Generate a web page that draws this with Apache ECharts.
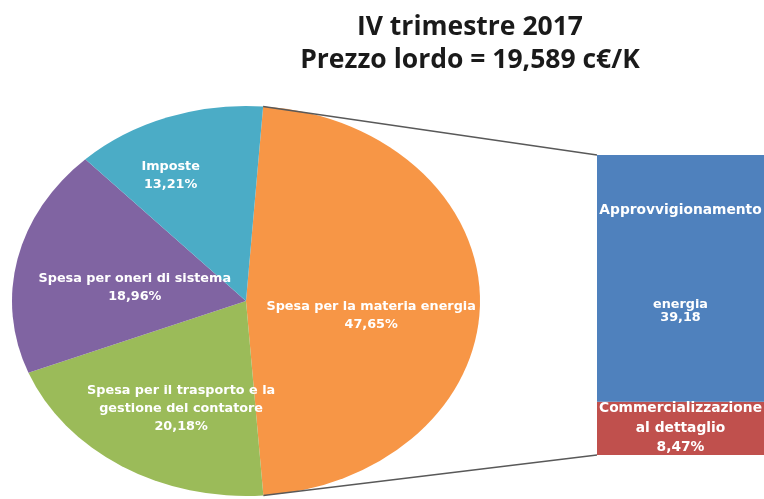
<!DOCTYPE html>
<html lang="it">
<head>
    <meta charset="UTF-8">
    <title></title>
    <style type="text/css">
        html,body{margin:0;padding:0;background:#fff;}
        #main{width:764px;height:499px;}
    </style>
</head>
<body>
<div id="main"></div>
<script src="https://cdn.jsdelivr.net/npm/echarts@6/dist/echarts.min.js"></script>
<script>
    var titleLines = ['IV trimestre 2017', 'Prezzo lordo = 19,589 c€/K'];

    // torta: fette in senso orario, a partire dalla materia energia
    var pieNames = ['Spesa per la materia energia', 'Spesa per il trasporto e la\ngestione del contatore', 'Spesa per oneri di sistema', 'Imposte'];
    var pieValues = [47.65, 20.18, 18.96, 13.21];
    var pieColors = ['#F79646', '#9BBB59', '#8064A2', '#4BACC6'];

    // colonna di dettaglio della materia energia (dal basso verso l'alto)
    var barNames = ['Commercializzazione\nal dettaglio', 'Approvvigionamento energia'];
    var barValues = [8.47, 39.18];
    var barColors = ['#C0504D', '#4F81BD'];

    // impaginazione
    var pieCx = 246, pieCy = 301, pieRx = 234, pieRy = 195, pieStart = 4.2;
    var labelR = [0.54, 0.62, 0.48, 0.72];
    var labelTurn = [8, -5.5, -4.5, -7];
    var gridLeft = 597, gridTop = 155, gridW = 182, gridH = 300;

    var pieTotal = pieValues.reduce(function (s, v) { return s + v; }, 0);
    var barTotal = barValues.reduce(function (s, v) { return s + v; }, 0);

    function fmt(v) {
        return v.toFixed(2).replace('.', ',');
    }

    function sliceAngles(i) {
        var before = 0;
        for (var k = 0; k < i; k++) before += pieValues[k];
        var a0 = pieStart + 360 * before / pieTotal;
        var a1 = a0 + 360 * pieValues[i] / pieTotal;
        return [a0, a1];
    }

    function toRad(deg) {
        return (deg - 90) * Math.PI / 180;
    }

    function edgePoint(deg) {
        var t = deg * Math.PI / 180;
        return [pieCx + pieRx * Math.sin(t), pieCy - pieRy * Math.cos(t)];
    }

    function renderSlice(params, api) {
        var i = params.dataIndex;
        var ang = sliceAngles(i);
        var mid = (ang[0] + ang[1]) / 2 + labelTurn[i];
        var t = mid * Math.PI / 180;
        return {
            type: 'group',
            children: [{
                type: 'sector',
                x: pieCx,
                y: pieCy,
                scaleX: pieRx / pieRy,
                shape: {cx: 0, cy: 0, r0: 0, r: pieRy, startAngle: toRad(ang[0]), endAngle: toRad(ang[1]), clockwise: true},
                style: {fill: pieColors[i]}
            }, {
                type: 'text',
                x: pieCx + pieRx * labelR[i] * Math.sin(t),
                y: pieCy - pieRy * labelR[i] * Math.cos(t),
                z2: 10,
                style: {
                    text: pieNames[i] + '\n' + fmt(api.value(0)) + '%',
                    fill: '#fff',
                    fontFamily: 'DejaVu Sans',
                    fontWeight: 'bold',
                    fontSize: 12.8,
                    lineHeight: 18,
                    align: 'center',
                    verticalAlign: 'middle'
                }
            }]
        };
    }

    var topPt = edgePoint(sliceAngles(0)[0]);
    var botPt = edgePoint(sliceAngles(0)[1]);

    var myChart = echarts.init(document.getElementById('main'));

    var option = {
        animation: false,
        title: {
            text: titleLines.join('\n'),
            left: 465,
            top: 6,
            textAlign: 'center',
            textStyle: {
                fontFamily: 'Open Sans',
                fontWeight: 'bold',
                fontSize: 26.5,
                lineHeight: 33,
                color: '#1a1a1a'
            }
        },
        grid: {left: gridLeft, top: gridTop, width: gridW, height: gridH},
        xAxis: {type: 'category', data: ['materia energia'], show: false},
        yAxis: {type: 'value', min: 0, max: barTotal, show: false},
        series: [{
            type: 'custom',
            coordinateSystem: 'none',
            renderItem: renderSlice,
            data: pieValues
        }, {
            name: barNames[0],
            type: 'bar',
            stack: 'energia',
            barWidth: '100%',
            data: [barValues[0]],
            itemStyle: {color: barColors[0]},
            label: {
                show: true,
                position: 'inside',
                formatter: function (p) { return barNames[0] + '\n' + fmt(p.value) + '%'; },
                color: '#fff',
                fontFamily: 'DejaVu Sans',
                fontWeight: 'bold',
                fontSize: 13.8,
                lineHeight: 19.5
            }
        }, {
            name: barNames[1],
            type: 'bar',
            stack: 'energia',
            barWidth: '100%',
            data: [barValues[1]],
            itemStyle: {color: barColors[1]},
            label: {
                show: true,
                position: 'inside',
                offset: [0, -15],
                formatter: function (p) {
                    var w = barNames[1].split(' ');
                    return '{a|' + w[0] + '}\n{s| }\n{b|' + w[1] + '}\n{b|' + fmt(p.value) + '}';
                },
                color: '#fff',
                fontFamily: 'DejaVu Sans',
                fontWeight: 'bold',
                fontSize: 13.8,
                rich: {
                    a: {lineHeight: 16, fontSize: 13.8, fontWeight: 'bold', fontFamily: 'DejaVu Sans', color: '#fff'},
                    s: {lineHeight: 80, fontSize: 10},
                    b: {lineHeight: 13, fontSize: 12.8, fontWeight: 'bold', fontFamily: 'DejaVu Sans', color: '#fff'}
                }
            }
        }],
        graphic: [{
            type: 'line',
            z: 100,
            shape: {x1: topPt[0], y1: topPt[1], x2: gridLeft, y2: gridTop},
            style: {stroke: '#595959', lineWidth: 1.5}
        }, {
            type: 'line',
            z: 100,
            shape: {x1: botPt[0], y1: botPt[1], x2: gridLeft, y2: gridTop + gridH},
            style: {stroke: '#595959', lineWidth: 1.5}
        }]
    };

    myChart.setOption(option);
</script>
</body>
</html>
